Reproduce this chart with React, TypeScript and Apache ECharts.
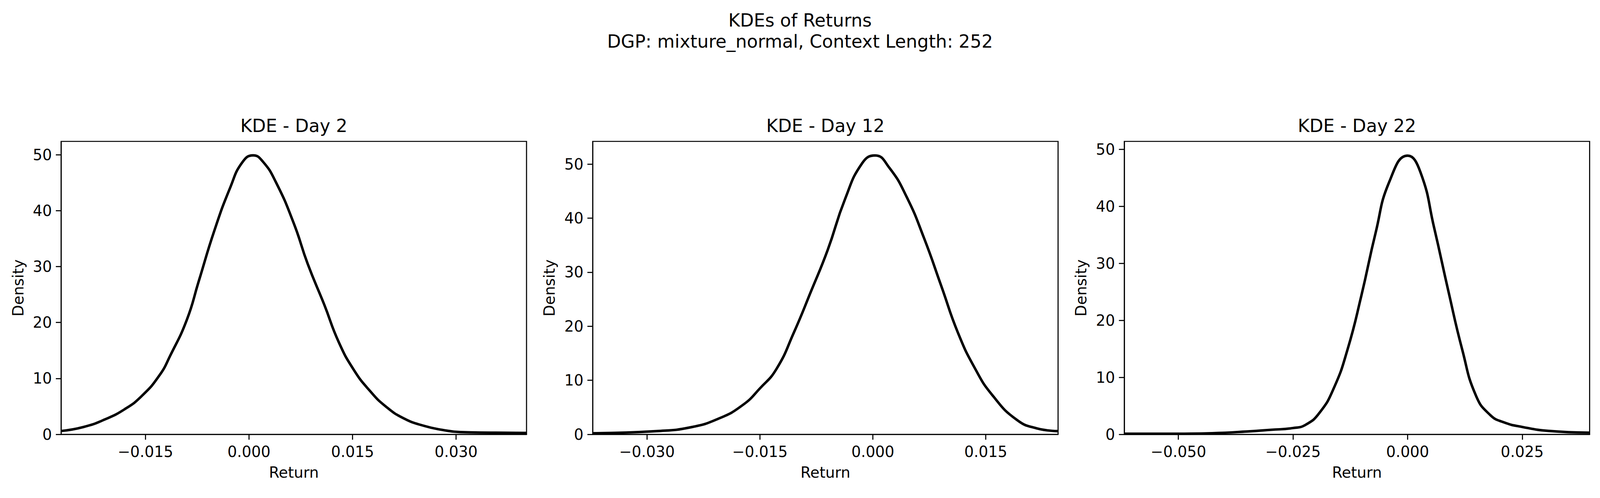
import React, { useEffect, useRef } from "react";
import * as echarts from "echarts";

const titles = ["KDE - Day 2", "KDE - Day 12", "KDE - Day 22"];
const xRanges = [[-0.0272, 0.0402], [-0.0372, 0.0246], [-0.0618, 0.0397]];
const yMax = [52.4, 54.2, 51.4];
const xTicks = [[-0.015, 0, 0.015, 0.03], [-0.03, -0.015, 0, 0.015], [-0.05, -0.025, 0, 0.025]];
const yTicks = [0, 10, 20, 30, 40, 50];

const day2X = [-0.0272, -0.024, -0.021, -0.018, -0.0155, -0.013, -0.0114, -0.009, -0.0073, -0.005, -0.0027, -0.001, 0.0006, 0.002, 0.0039, 0.0065, 0.0085, 0.0109, 0.013, 0.0152, 0.0175, 0.0198, 0.0225, 0.0254, 0.028, 0.0306, 0.035, 0.0402];
const day2Y = [0.6, 1.3, 2.6, 4.5, 6.9, 10.5, 14.1, 20.5, 27.3, 36.5, 44.2, 48.6, 49.9, 48.8, 45.1, 37.7, 30.5, 23.2, 16.5, 11.5, 7.8, 5.0, 2.8, 1.5, 0.8, 0.4, 0.3, 0.25];
const day12X = [-0.0372, -0.0287, -0.0242, -0.0205, -0.0173, -0.015, -0.0128, -0.0105, -0.0082, -0.006, -0.0037, -0.0014, 0.0003, 0.0022, 0.0045, 0.0068, 0.0091, 0.0113, 0.0136, 0.0159, 0.0191, 0.0218, 0.0246];
const day12Y = [0.2, 0.6, 1.3, 2.9, 5.4, 8.5, 12.1, 18.8, 26.5, 34.1, 43.5, 50.2, 51.6, 49.3, 43.9, 36.3, 27.4, 18.8, 12.1, 7.2, 2.7, 1.1, 0.6];
const day22X = [-0.0618, -0.0502, -0.0427, -0.0351, -0.0298, -0.025, -0.0222, -0.0192, -0.0161, -0.0131, -0.0101, -0.007, -0.004, 0, 0.0028, 0.0058, 0.0089, 0.0119, 0.0149, 0.018, 0.021, 0.025, 0.0308, 0.0397];
const day22Y = [0.1, 0.1, 0.2, 0.5, 0.8, 1.1, 1.7, 3.8, 8.1, 14.9, 24.3, 35.3, 44.3, 48.9, 46.0, 36.2, 25.1, 14.9, 6.8, 3.4, 2.1, 1.3, 0.6, 0.3];

const seriesX = [day2X, day12X, day22X];
const seriesY = [day2Y, day12Y, day22Y];

const FONT = "DejaVu Sans";
const fmt = (v: number) => (Math.abs(v) < 1e-12 ? "0.000" : (v < 0 ? "\u2212" : "") + Math.abs(v).toFixed(3));

export default function App() {
  const ref = useRef<HTMLDivElement>(null);
  useEffect(() => {
    document.body.style.margin = "0";
    document.body.style.overflow = "hidden";
    const vw = window.innerWidth || 4470;
    const vh = window.innerHeight || 1275;
    const sx = vw / 4470, sy = vh / 1275, s = Math.min(sx, sy);
    ref.current!.style.width = vw + "px";
    ref.current!.style.height = vh + "px";
    const chart = echarts.init(ref.current!, null, { renderer: "svg" });
    const lefts = [171, 1656, 3141];
    const W = 1300, TOP = 362, H = 750;
    const grids = lefts.map((l) => ({ left: l * sx, top: TOP * sy, width: W * sx, height: H * sy, show: true, borderColor: "#000", borderWidth: 3 * s, backgroundColor: "transparent" }));
    const fs = 42 * s;
    const xAxes = lefts.map((_, i) => ({
      type: "value", gridIndex: i, min: xRanges[i][0], max: xRanges[i][1],
      name: "Return", nameLocation: "middle", nameGap: 86 * s,
      nameTextStyle: { fontFamily: FONT, fontSize: fs, color: "#000" },
      axisLine: { show: true, onZero: false, lineStyle: { color: "#000", width: 3 * s } },
      axisTick: { show: true, length: 15 * s, lineStyle: { color: "#000", width: 3 * s }, customValues: xTicks[i] },
      axisLabel: { fontFamily: FONT, fontSize: fs, color: "#000", margin: 28 * s, customValues: xTicks[i], formatter: (v: number) => fmt(v) },
      splitLine: { show: false },
    }));
    const yAxes = lefts.map((_, i) => ({
      type: "value", gridIndex: i, min: 0, max: yMax[i],
      name: "Density", nameLocation: "middle", nameGap: 100 * s,
      nameTextStyle: { fontFamily: FONT, fontSize: fs, color: "#000" },
      axisLine: { show: true, onZero: false, lineStyle: { color: "#000", width: 3 * s } },
      axisTick: { show: true, length: 15 * s, lineStyle: { color: "#000", width: 3 * s }, customValues: yTicks },
      axisLabel: { fontFamily: FONT, fontSize: fs, color: "#000", margin: 26 * s, customValues: yTicks },
      splitLine: { show: false },
    }));
    const series = lefts.map((_, i) => ({
      type: "line", xAxisIndex: i, yAxisIndex: i, smooth: 0.5, showSymbol: false,
      lineStyle: { color: "#000", width: 7 * s },
      data: seriesX[i].map((x, j) => [x, seriesY[i][j]]),
    }));
    const txt = (text: string, x: number, y: number) => ({
      type: "text", x: x * sx, y: y * sy,
      style: { text, fontFamily: FONT, fontSize: 50 * s, fill: "#000", textAlign: "center", textVerticalAlign: "middle" },
    });
    const graphic = [
      txt("KDEs of Returns", 2235, 52),
      txt("DGP: mixture_normal, Context Length: 252", 2235, 106),
      ...lefts.map((l, i) => txt(titles[i], l + W / 2, 322)),
    ];
    chart.setOption({ animation: false, backgroundColor: "#fff", graphic, grid: grids, xAxis: xAxes, yAxis: yAxes, series });
    return () => chart.dispose();
  }, []);
  return <div ref={ref} style={{ width: 4470, height: 1275 }} />;
}
